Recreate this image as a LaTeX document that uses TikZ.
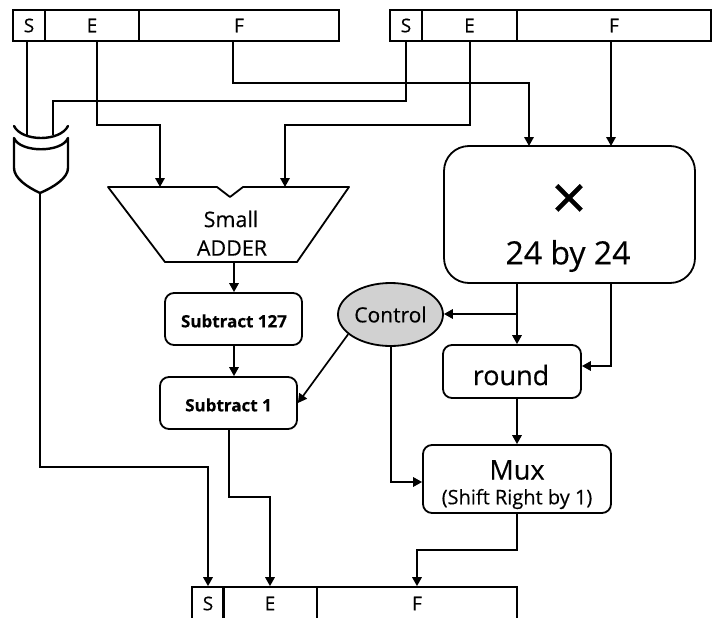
\documentclass[tikz,border=0pt]{standalone}
\usepackage{fontspec}
\setmainfont{Open Sans}[FakeBold=0.35]
\usetikzlibrary{arrows.meta,shapes.geometric}
\tikzset{
  x=1pt,y=-1pt,
  wire/.style={line width=1.7pt,-{Triangle[length=9pt,width=9.5pt]}},
  plain/.style={line width=1.7pt},
  field/.style={draw,line width=1.7pt,inner sep=0pt,font=\fontsize{19}{20}\selectfont},
  block/.style={draw,line width=1.8pt,rounded corners=9pt,inner sep=0pt,align=center},
  gate/.style={line width=2.4pt,line cap=round,line join=round},
}
\begin{document}
\begin{tikzpicture}
\useasboundingbox (0,0) rectangle (712,618);
% registers
\node[field,minimum width=32pt,minimum height=31pt] (s1) at (29,25.5) {S};
\node[field,minimum width=94pt,minimum height=31pt] (e1) at (92,25.5) {E};
\node[field,minimum width=200pt,minimum height=31pt] (f1) at (239,25.5) {F};
\node[field,minimum width=32pt,minimum height=31pt] (s2) at (406,25.5) {S};
\node[field,minimum width=95pt,minimum height=31pt] (e2) at (469.5,25.5) {E};
\node[field,minimum width=194pt,minimum height=31pt] (f2) at (614,25.5) {F};
\node[field,minimum width=32pt,minimum height=33pt] (s3) at (208,603.5) {S};
\node[field,minimum width=94pt,minimum height=33pt] (e3) at (270,603.5) {E};
\node[field,minimum width=200pt,minimum height=33pt] (f3) at (417,603.5) {F};
% blocks
\node[block,rounded corners=25pt,minimum width=251pt,minimum height=137pt] (mult) at (569.5,214.5) {};
\node[font=\fontsize{62}{62}\selectfont] (times) at (569,202) {×};
\node[font=\fontsize{32}{34}\selectfont] (size) at (568,256) {24 by 24};
\node[block,minimum width=137pt,minimum height=52pt] (sub127) at (233.5,319) {};
\node[font=\fontsize{17}{18}\selectfont\bfseries] (sub127t) at (234,321) {Subtract 127};
\node[block,minimum width=137pt,minimum height=52pt] (sub1) at (228.5,403) {};
\node[font=\fontsize{17}{18}\selectfont\bfseries] (sub1t) at (228.5,405) {Subtract 1};
\node[block,minimum width=138pt,minimum height=53pt] (round) at (512,371.5) {};
\node[font=\fontsize{27}{30}\selectfont] (roundt) at (511,375) {round};
\node[block,minimum width=188pt,minimum height=68pt] (mux) at (517,479) {};
\node[font=\fontsize{27}{30}\selectfont] (muxa) at (517,470) {Mux};
\node[font=\fontsize{20}{22}\selectfont] (muxb) at (517,499) {(Shift Right by 1)};
\node[draw,ellipse,line width=1.8pt,fill=black!18,minimum width=105pt,minimum height=63pt,inner sep=0pt,font=\fontsize{21}{24}\selectfont] (ctrl) at (390.5,314.5) {Control};
% adder
\coordinate (a1) at (108,187);
\coordinate (a2) at (217,187);
\coordinate (a3) at (230,197);
\coordinate (a4) at (243,187);
\coordinate (a5) at (349,187);
\coordinate (a6) at (297,262);
\coordinate (a7) at (165,262);
\draw[line width=1.8pt,line join=round] (a1)--(a2)--(a3)--(a4)--(a5)--(a6)--(a7)--cycle;
\node[font=\fontsize{21.5}{22}\selectfont] (small) at (231,219) {Small};
\node[font=\fontsize{21.5}{22}\selectfont] (adder) at (232,248) {ADDER};
% xor gate
\coordinate (xl) at (14,126);
\coordinate (xr) at (68,126);
\coordinate (bl) at (14,138);
\coordinate (br) at (68,138);
\coordinate (ip1) at (27,135);
\coordinate (ip2) at (53,135);
\coordinate (tip) at (40,193);
\coordinate (stem) at (40,207);
\draw[gate] (xl) .. controls (22,142) and (60,142) .. (xr);
\draw[gate] (bl) .. controls (20,153) and (62,153) .. (br) -- (68,168) .. controls (68,178) and (54,187) .. (tip) .. controls (27,187) and (14,178) .. (14,168) -- cycle;
\draw[gate,line cap=butt] (tip) -- (stem);
% wires
\coordinate (t1) at (27,41);
\draw[plain] (t1) -- (ip1);
\coordinate (t2) at (406,41);
\draw[plain] (t2) -- (406,101) -- (53,101) -- (ip2);
\coordinate (t3) at (97,41);
\coordinate (p3) at (160,187);
\draw[wire] (t3) -- (97,125) -- (160,125) -- (p3);
\coordinate (t4) at (470,41);
\coordinate (p4) at (285,187);
\draw[wire] (t4) -- (470,125) -- (285,125) -- (p4);
\coordinate (t5) at (233,41);
\coordinate (p5) at (529,146);
\draw[wire] (t5) -- (233,83) -- (529,83) -- (p5);
\coordinate (t6) at (611,41);
\coordinate (p6) at (611,146);
\draw[wire] (t6) -- (p6);
\coordinate (p7) at (234,262);
\draw[wire] (p7) -- (sub127.north -| p7);
\draw[wire] (sub127.south -| p7) -- (sub1.north -| p7);
\draw[wire] (ctrl.205) -- (sub1.east);
\coordinate (m1) at (517,283);
\coordinate (m2) at (517,314);
\draw[wire] (m1) -- (round.north -| m1);
\draw[wire] (m2) -- (ctrl.east |- m2);
\coordinate (m3) at (611,283);
\draw[wire] (m3) -- (611,366) -- (round.east |- 0,366);
\draw[wire] (round.south -| m1) -- (mux.north -| m1);
\coordinate (c1) at (391,346);
\draw[wire] (c1) -- (391,482) -- (mux.west |- 0,482);
\draw[wire] (mux.south) -- (517,550) -- (417,550) -- (f3.north);
\coordinate (d1) at (229,429);
\draw[wire] (d1) -- (229,497) -- (270,497) -- (e3.north);
\draw[wire] (stem) -- (40,467) -- (208,467) -- (s3.north);
\end{tikzpicture}
\end{document}
